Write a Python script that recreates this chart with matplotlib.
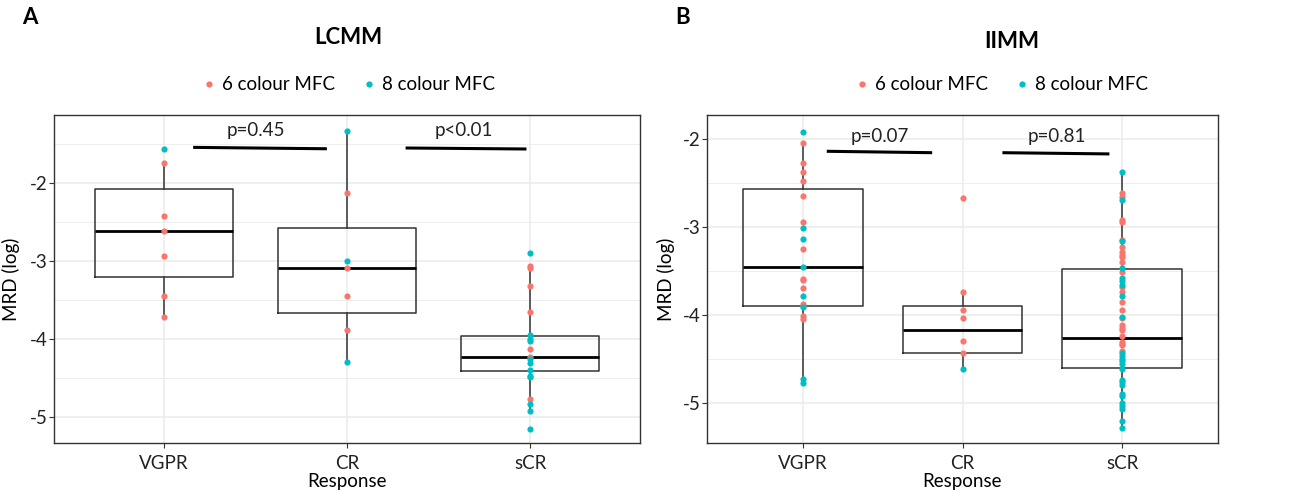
import numpy as np
import matplotlib.pyplot as plt
from matplotlib.lines import Line2D

plt.rcParams['font.family'] = ['Lato', 'DejaVu Sans']

RED = '#F8766D'
TEAL = '#00BFC4'

categories = ['VGPR', 'CR', 'sCR']

# LCMM, values (MRD, log)
lcmm_vgpr_6 = [-1.74, -2.42, -2.61, -2.93, -3.45, -3.72]
lcmm_vgpr_8 = [-1.56]
lcmm_cr_6 = [-2.12, -3.09, -3.44, -3.88]
lcmm_cr_8 = [-1.33, -3.00, -4.29]
lcmm_scr_6 = [-3.06, -3.08, -3.32, -3.65, -4.12, -4.23, -4.77]
lcmm_scr_8 = [-2.90, -3.95, -3.99, -4.02, -4.25, -4.30, -4.40, -4.47, -4.49,
              -4.83, -4.92, -5.15]

# box statistics as drawn in the figure
lcmm_lo = [-3.72, -4.29, -4.92]
lcmm_q1 = [-3.20, -3.66, -4.41]
lcmm_med = [-2.61, -3.09, -4.23]
lcmm_q3 = [-2.07, -2.57, -3.96]
lcmm_hi = [-1.74, -1.33, -3.06]

# IIMM
iimm_vgpr_6 = [-2.05, -2.27, -2.38, -2.48, -2.65, -2.94, -3.25, -3.59, -3.61,
               -3.70, -3.88, -3.90, -4.02, -4.05]
iimm_vgpr_8 = [-1.92, -3.01, -3.14, -3.46, -3.79, -3.91, -4.73, -4.78]
iimm_cr_6 = [-2.67, -3.74, -3.95, -4.04, -4.30, -4.44]
iimm_cr_8 = [-4.62]
iimm_scr_6 = [-2.61, -2.66, -2.92, -2.94, -3.15, -3.23, -3.29, -3.32, -3.34,
              -3.40, -3.51, -3.69, -3.74, -3.85, -3.95, -4.04, -4.12, -4.15,
              -4.17, -4.24, -4.31, -4.33, -4.35, -4.41]
iimm_scr_8 = [-2.38, -2.69, -3.16, -3.47, -3.58, -3.62, -3.66, -3.79, -4.03,
              -4.44, -4.47, -4.50, -4.53, -4.56, -4.62, -4.74, -4.77, -4.80,
              -4.90, -4.93, -5.01, -5.04, -5.07, -5.21, -5.29]

iimm_lo = [-4.78, -4.62, -5.29]
iimm_q1 = [-3.90, -4.44, -4.61]
iimm_med = [-3.46, -4.17, -4.26]
iimm_q3 = [-2.57, -3.90, -3.48]
iimm_hi = [-2.05, -3.74, -2.38]

lcmm_p = ['p=0.45', 'p<0.01']
iimm_p = ['p=0.07', 'p=0.81']

W, H = 1296, 493
fig = plt.figure(figsize=(W / 100, H / 100), dpi=100)
FS = 13.5


def px_ax(x0, x1, y0, y1):
    return fig.add_axes([x0 / W, 1 - y1 / H, (x1 - x0) / W, (y1 - y0) / H])


def panel(ax, pts6, pts8, lo, q1, med, q3, hi, ylim, pvals, bars, ptxt):
    stats = []
    for i in range(3):
        stats.append(dict(whislo=lo[i], q1=q1[i], med=med[i], q3=q3[i],
                          whishi=hi[i], fliers=[]))
    ax.bxp(stats, positions=[1, 2, 3], widths=0.75, showfliers=False,
           boxprops=dict(color='#333333', lw=1.1),
           whiskerprops=dict(color='#333333', lw=1.1),
           capprops=dict(lw=0),
           medianprops=dict(color='black', lw=2.0), zorder=2)
    for i in range(3):
        ax.scatter(np.full(len(pts6[i]), i + 1), pts6[i], s=20, color=RED,
                   lw=0, zorder=3)
        ax.scatter(np.full(len(pts8[i]), i + 1), pts8[i], s=20, color=TEAL,
                   lw=0, zorder=3)
    ax.set_xticks([1, 2, 3])
    ax.set_xticklabels(categories)
    ax.set_yticks([-2, -3, -4, -5])
    ax.set_yticklabels(['-2', '-3', '-4', '-5'])
    ax.set_yticks([-1.5, -2.5, -3.5, -4.5], minor=True)
    ax.set_xlim(0.4, 3.6)
    ax.set_ylim(*ylim)
    ax.grid(True, which='major', color='#EBEBEB', lw=1.1, zorder=0)
    ax.grid(True, which='minor', axis='y', color='#EBEBEB', lw=0.6, zorder=0)
    ax.set_axisbelow(True)
    ax.tick_params(which='minor', length=0)
    ax.tick_params(which='major', length=3.5, color='#333333', width=0.8,
                   labelsize=FS, labelcolor='#222222')
    ax.tick_params(axis='x', pad=5)
    ax.tick_params(axis='y', pad=1)
    for s in ax.spines.values():
        s.set_color('#333333')
        s.set_linewidth(1.0)
    for (x0, x1, y0, y1), (tx, ty), t in zip(bars, ptxt, pvals):
        ax.plot([x0, x1], [y0, y1], color='black', lw=2.2, zorder=4,
                solid_capstyle='butt')
        ax.text(tx, ty, t, ha='center', va='center', fontsize=FS, color='#222222')
    ax.set_xlabel('Response', fontsize=FS, labelpad=1)
    ax.set_ylabel('MRD (log)', fontsize=FS)


ax1 = px_ax(54, 640, 115, 443)
panel(ax1,
      [lcmm_vgpr_6, lcmm_cr_6, lcmm_scr_6], [lcmm_vgpr_8, lcmm_cr_8, lcmm_scr_8],
      lcmm_lo, lcmm_q1, lcmm_med, lcmm_q3, lcmm_hi, (-5.33, -1.124), lcmm_p,
      [(1.16, 1.89, -1.539, -1.557), (2.32, 2.98, -1.547, -1.56)],
      [(1.50, -1.317), (2.64, -1.317)])
ax1.yaxis.set_label_coords(-0.058, 0.5)

ax2 = px_ax(707, 1218, 115, 443)
panel(ax2,
      [iimm_vgpr_6, iimm_cr_6, iimm_scr_6], [iimm_vgpr_8, iimm_cr_8, iimm_scr_8],
      iimm_lo, iimm_q1, iimm_med, iimm_q3, iimm_hi, (-5.46, -1.727), iimm_p,
      [(1.15, 1.81, -2.14, -2.156), (2.25, 2.92, -2.156, -2.17)],
      [(1.48, -1.97), (2.59, -1.97)])
ax2.yaxis.set_label_coords(-0.062, 0.5)

# titles, panel letters, legends
fig.text(348 / W, 1 - 37 / H, 'LCMM', ha='center', va='center', fontsize=16,
         fontweight='bold')
fig.text(1012 / W, 1 - 42 / H, 'IIMM', ha='center', va='center', fontsize=16,
         fontweight='bold')
fig.text(30 / W, 1 - 17 / H, 'A', ha='center', va='center', fontsize=16,
         fontweight='bold')
fig.text(683 / W, 1 - 17 / H, 'B', ha='center', va='center', fontsize=16,
         fontweight='bold')

handles = [Line2D([], [], ls='', marker='o', ms=4.5, color=RED, mew=0),
           Line2D([], [], ls='', marker='o', ms=4.5, color=TEAL, mew=0)]
labels = ['6 colour MFC', '8 colour MFC']
for cx in (348, 1001):
    fig.legend(handles, labels, loc='center', bbox_to_anchor=(cx / W, 1 - 85 / H),
               ncol=2, frameon=False, fontsize=FS, handletextpad=0.3,
               columnspacing=1.4, handlelength=0.8, borderpad=0)

fig.savefig('out.png', dpi=100)
